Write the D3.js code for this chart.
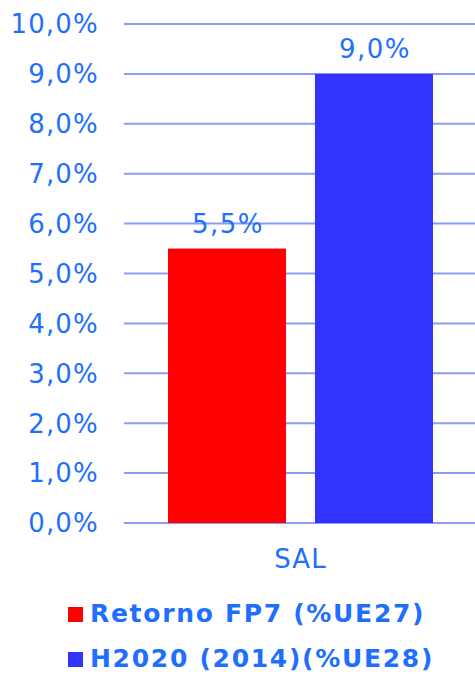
<!DOCTYPE html>
<html>
<head>
<meta charset="utf-8">
<script src="https://cdn.jsdelivr.net/npm/d3@7"></script>
<style>
  body { margin: 0; background: #fff; }
  text { font-family: "DejaVu Sans", Verdana, sans-serif; }
</style>
</head>
<body>
<div id="chart"></div>
<script>
const categories = ["SAL"];
const seriesNames = ["Retorno FP7 (%UE27)", "H2020 (2014)(%UE28)"];
const seriesColors = ["#ff0000", "#3333ff"];
const values = [[5.5, 9.0]]; // per category, per series
const yTicks = [0, 1, 2, 3, 4, 5, 6, 7, 8, 9, 10];

const width = 475;
const height = 674;
const margin = { top: 24, right: 0, bottom: 151, left: 124 };
const textColor = "#1f6fff";
const gridColor = "#8c9cf5";

const fmt = v => d3.format(".1f")(v).replace(".", ",") + "%";

const svg = d3.select("#chart")
  .append("svg")
  .attr("width", width)
  .attr("height", height);

const y = d3.scaleLinear()
  .domain([0, 10])
  .range([height - margin.bottom, margin.top]);

const x0 = d3.scaleBand()
  .domain(categories)
  .range([margin.left + 1, width - margin.right + 1])
  .paddingOuter(0.1623);

const x1 = d3.scaleBand()
  .domain(seriesNames)
  .range([0, x0.bandwidth()])
  .paddingInner(0.197)
  .paddingOuter(0);

// gridlines
svg.append("g")
  .selectAll("line")
  .data(yTicks)
  .enter()
  .append("line")
  .attr("x1", margin.left)
  .attr("x2", width - margin.right)
  .attr("y1", d => y(d))
  .attr("y2", d => y(d))
  .attr("stroke", gridColor)
  .attr("stroke-width", 2);

// y tick labels
svg.append("g")
  .selectAll("text")
  .data(yTicks)
  .enter()
  .append("text")
  .attr("x", 99)
  .attr("y", d => y(d))
  .attr("dy", "0.36em")
  .attr("text-anchor", "end")
  .attr("fill", textColor)
  .style("font-size", "26px")
  .style("letter-spacing", "1.2px")
  .text(d => fmt(d));

// bars
const groups = svg.append("g")
  .selectAll("g")
  .data(categories)
  .enter()
  .append("g")
  .attr("transform", d => `translate(${x0(d)},0)`);

groups.selectAll("rect")
  .data((d, i) => values[i].map((v, j) => ({ key: seriesNames[j], value: v, color: seriesColors[j] })))
  .enter()
  .append("rect")
  .attr("x", d => x1(d.key))
  .attr("y", d => y(d.value))
  .attr("width", x1.bandwidth())
  .attr("height", d => y(0) - y(d.value))
  .attr("fill", d => d.color);

groups.selectAll("text.val")
  .data((d, i) => values[i].map((v, j) => ({ key: seriesNames[j], value: v })))
  .enter()
  .append("text")
  .attr("class", "val")
  .attr("x", d => x1(d.key) + x1.bandwidth() / 2 + 1)
  .attr("y", d => y(d.value) - 16)
  .attr("text-anchor", "middle")
  .attr("fill", textColor)
  .style("font-size", "26px")
  .style("letter-spacing", "1.5px")
  .text(d => fmt(d.value));

// category label
svg.append("g")
  .selectAll("text")
  .data(categories)
  .enter()
  .append("text")
  .attr("x", d => x0(d) + x0.bandwidth() / 2)
  .attr("y", 568)
  .attr("text-anchor", "middle")
  .attr("fill", textColor)
  .style("font-size", "26px")
  .style("letter-spacing", "1px")
  .text(d => d);

// legend
const legend = svg.append("g")
  .selectAll("g")
  .data(seriesNames)
  .enter()
  .append("g")
  .attr("transform", (d, i) => `translate(68,${622 + i * 45})`);

legend.append("rect")
  .attr("x", 0)
  .attr("y", -15)
  .attr("width", 15)
  .attr("height", 15)
  .attr("fill", (d, i) => seriesColors[i]);

legend.append("text")
  .attr("x", 22)
  .attr("y", 0)
  .attr("fill", textColor)
  .style("font-size", "25px")
  .style("font-weight", "bold")
  .style("letter-spacing", "1.7px")
  .text(d => d);
</script>
</body>
</html>
